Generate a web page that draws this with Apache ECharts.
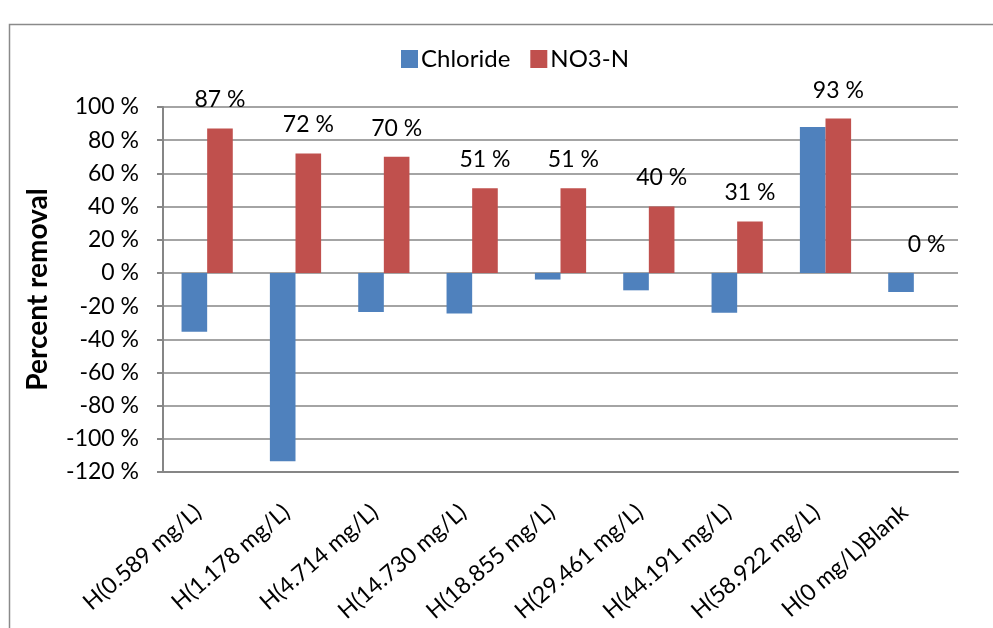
<!DOCTYPE html>
<html>
<head>
<meta charset="utf-8">
<script src="https://cdn.jsdelivr.net/npm/echarts@6/dist/echarts.min.js"></script>
<style>
  html, body { margin: 0; padding: 0; background: #fff; }
  #chart { width: 993px; height: 628px; }
</style>
</head>
<body>
<div id="chart"></div>
<script>
// Sample concentrations (x categories)
const categories = [
  'H(0.589 mg/L)', 'H(1.178 mg/L)', 'H(4.714 mg/L)', 'H(14.730 mg/L)',
  'H(18.855 mg/L)', 'H(29.461 mg/L)', 'H(44.191 mg/L)', 'H(58.922 mg/L)',
  'H(0 mg/L)Blank'
];
// Percent removal per ion
const chloride = [-35.5, -113.5, -23.5, -24.5, -4, -10.5, -24, 88, -11.5];
const nitrate = [87, 72, 70, 51, 51, 40, 31, 93, 0];
// Value axis range and step
const yMin = -120;
const yMax = 100;
const yStep = 20;

const FONT = 'Lato';
const GRID_COLOR = '#868686';

const chart = echarts.init(document.getElementById('chart'), null, { renderer: 'canvas' });

chart.setOption({
  animation: false,
  textStyle: { fontFamily: FONT, color: '#000' },
  graphic: [{
    type: 'rect',
    shape: { x: 9.5, y: 24.5, width: 1000, height: 700 },
    style: { fill: 'none', stroke: '#8a8a8a', lineWidth: 1.5 },
    silent: true
  }],
  legend: {
    left: 396,
    top: 42,
    itemWidth: 17,
    itemHeight: 18,
    itemGap: 20,
    icon: 'rect',
    textStyle: { fontFamily: FONT, fontSize: 24, color: '#000', padding: [0, 0, 0, -2] },
    data: ['Chloride', 'NO3-N']
  },
  grid: { left: 163, right: 35, top: 107, bottom: 156, containLabel: false },
  xAxis: {
    type: 'category',
    data: categories,
    axisLine: { onZero: false, lineStyle: { color: GRID_COLOR, width: 2 } },
    axisTick: { show: false },
    axisLabel: {
      rotate: 41,
      interval: 0,
      margin: 29,
      fontFamily: FONT,
      fontSize: 23,
      color: '#000',
      padding: [0, 12, 0, 0]
    }
  },
  yAxis: {
    type: 'value',
    min: yMin,
    max: yMax,
    interval: yStep,
    name: 'Percent removal',
    nameLocation: 'middle',
    nameRotate: 90,
    nameGap: 111,
    nameTextStyle: { fontFamily: FONT, fontSize: 28, fontWeight: 'bold', color: '#000' },
    axisLine: { show: true, lineStyle: { color: GRID_COLOR, width: 2 } },
    axisTick: { show: true, inside: false, length: 6, lineStyle: { color: GRID_COLOR, width: 2 } },
    splitLine: { show: true, lineStyle: { color: GRID_COLOR, width: 1.6 } },
    axisLabel: {
      margin: 24,
      fontFamily: FONT,
      fontSize: 23,
      color: '#000',
      formatter: v => v + ' %'
    }
  },
  series: [
    {
      name: 'Chloride',
      type: 'bar',
      data: chloride,
      barGap: '0%',
      barCategoryGap: '42%',
      itemStyle: { color: '#4F81BD' }
    },
    {
      name: 'NO3-N',
      type: 'bar',
      data: nitrate,
      barGap: '0%',
      barCategoryGap: '42%',
      itemStyle: { color: '#C0504D' },
      label: {
        show: true,
        position: 'top',
        distance: 17,
        fontFamily: FONT,
        fontSize: 23,
        color: '#000',
        formatter: p => p.value + ' %'
      }
    }
  ]
});
</script>
</body>
</html>
